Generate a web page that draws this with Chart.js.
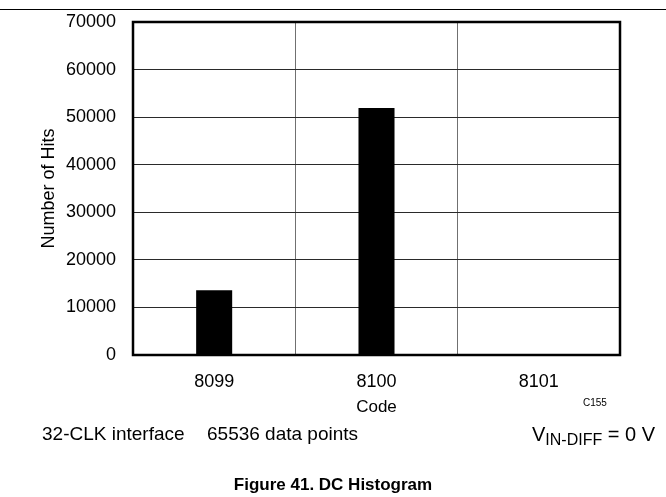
<!DOCTYPE html>
<html>
<head>
<meta charset="utf-8">
<script src="https://cdn.jsdelivr.net/npm/chart.js@4"></script>
<style>
  body { margin: 0; background: #fff; }
  #wrap { position: relative; width: 666px; height: 497px; font-family: "Liberation Sans", Arial, sans-serif; color: #000; }
  #wrap canvas { position: absolute; left: 0; top: 0; }
  .rule { position: absolute; left: 0; top: 9px; width: 666px; height: 1px; background: #000; }
  .note { position: absolute; font-size: 19px; line-height: 20px; white-space: nowrap; }
  .note sub { font-size: 16px; vertical-align: -4px; line-height: 0; }
  .tag { position: absolute; font-size: 10px; line-height: 10px; }
  .caption { position: absolute; left: 0; width: 666px; text-align: center; font-weight: bold; font-size: 17px; line-height: 17px; }
</style>
</head>
<body>
<div id="wrap">
  <canvas id="histChart" width="666" height="497"></canvas>
  <div class="rule"></div>
  <div class="tag" style="left:583px; top:398px;">C155</div>
  <div class="note" style="left:42px; top:424px;">32-CLK interface</div>
  <div class="note" style="left:207px; top:424px;">65536 data points</div>
  <div class="note" style="right:11px; top:424px; font-size:20px;">V<sub>IN-DIFF</sub> = 0 V</div>
  <div class="caption" style="top:476px;">Figure 41. DC Histogram</div>
</div>
<script>
let codes = ['8099', '8100', '8101'];
let hits = [13600, 51900, 0];
let hitTicks = [0, 10000, 20000, 30000, 40000, 50000, 60000, 70000];

// thick black frame round the plot
let frame = {
  id: 'frame',
  afterDraw(chart) {
    let a = chart.chartArea;
    let ctx = chart.ctx;
    ctx.save();
    ctx.strokeStyle = '#000';
    ctx.lineWidth = 2.5;
    ctx.strokeRect(a.left, a.top, a.right - a.left, a.bottom - a.top);
    ctx.restore();
  }
};

let histCtx = document.getElementById('histChart').getContext('2d');
let histChart = new Chart(histCtx, {
  type: 'bar',
  data: {
    labels: codes,
    datasets: [{
      data: hits,
      backgroundColor: '#000000',
      borderWidth: 0,
      barPercentage: 0.222,
      categoryPercentage: 1
    }]
  },
  options: {
    responsive: false,
    animation: false,
    layout: { padding: { left: 38, top: 22, right: 46, bottom: 79 } },
    plugins: { legend: { display: false }, tooltip: { enabled: false } },
    scales: {
      x: {
        grid: { color: '#707070', lineWidth: 1, drawTicks: false },
        border: { display: false },
        ticks: { color: '#000', padding: 16, font: { family: 'Liberation Sans', size: 18 } },
        title: { display: true, text: 'Code', color: '#000', padding: 0, font: { family: 'Liberation Sans', size: 17 } },
        afterFit(scale) { scale.height = 63; }
      },
      y: {
        min: 0,
        max: 70000,
        afterBuildTicks(scale) { scale.ticks = hitTicks.map(v => ({ value: v })); },
        grid: { color: '#2a2a2a', lineWidth: 1, drawTicks: false },
        border: { display: false },
        ticks: {
          color: '#000',
          padding: 17,
          font: { family: 'Liberation Sans', size: 18 },
          callback: v => String(v)
        },
        title: { display: true, text: 'Number of Hits', color: '#000', padding: 0, font: { family: 'Liberation Sans', size: 18 } },
        afterFit(scale) {
          scale.width = 95;
          scale.paddingTop = 0;
          scale.paddingBottom = 0;
        }
      }
    }
  },
  plugins: [frame]
});
</script>
</body>
</html>
